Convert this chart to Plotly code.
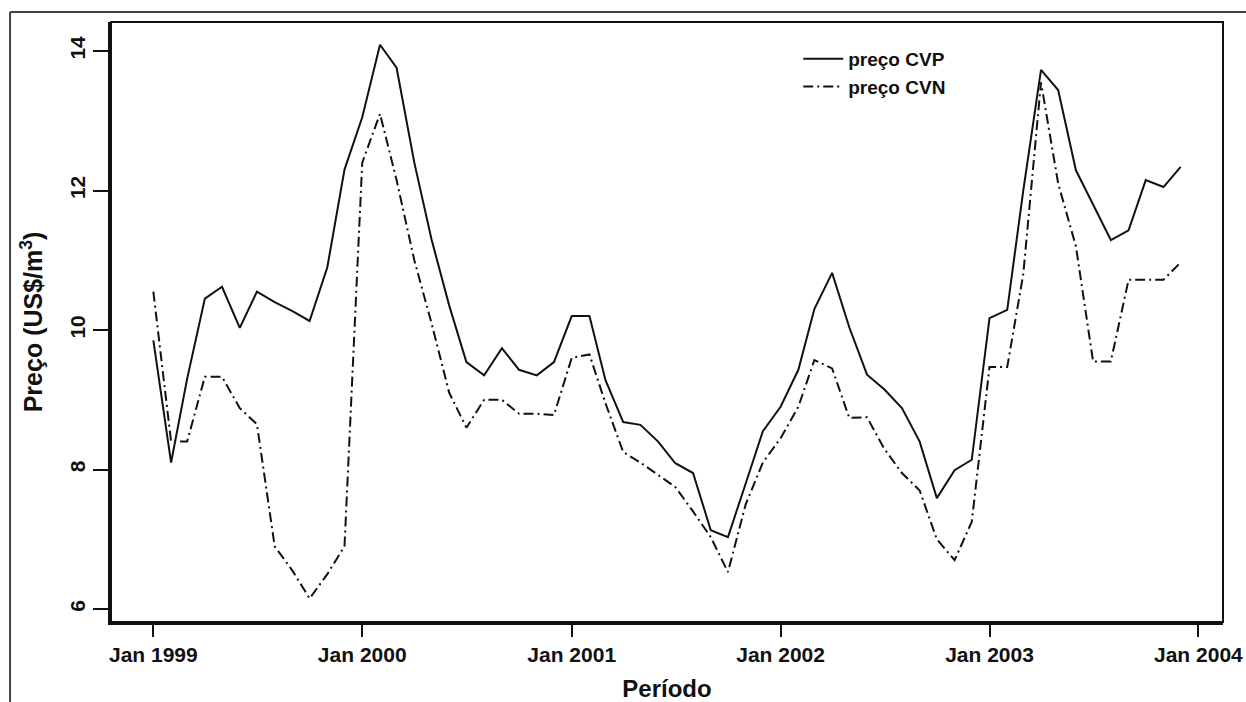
import plotly.graph_objects as go
import pandas as pd

# Monthly dates Jan 1999 .. Dec 2003
months = pd.date_range("1999-01-01", "2003-12-01", freq="MS").strftime("%Y-%m-%d").tolist()

preco_cvp = [
    9.85, 8.10, 9.30, 10.45, 10.62, 10.03, 10.55, 10.40, 10.27, 10.13, 10.90, 12.30,
    13.05, 14.09, 13.76, 12.40, 11.30, 10.35, 9.54, 9.35, 9.74, 9.43, 9.35, 9.54,
    10.20, 10.20, 9.28, 8.68, 8.64, 8.40, 8.09, 7.95, 7.13, 7.03, 7.80, 8.55,
    8.90, 9.43, 10.30, 10.82, 10.04, 9.36, 9.15, 8.88, 8.40, 7.59, 7.99, 8.14,
    10.17, 10.29, 12.00, 13.73, 13.44, 12.29, 11.80, 11.29, 11.43, 12.15, 12.05, 12.34,
]

preco_cvn = [
    10.55, 8.40, 8.40, 9.33, 9.33, 8.88, 8.65, 6.90, 6.55, 6.15, 6.50, 6.90,
    12.40, 13.10, 12.15, 11.00, 10.10, 9.10, 8.60, 9.00, 9.00, 8.80, 8.80, 8.78,
    9.60, 9.65, 8.95, 8.25, 8.10, 7.92, 7.75, 7.40, 7.03, 6.53, 7.50, 8.10,
    8.45, 8.90, 9.57, 9.45, 8.74, 8.75, 8.30, 7.95, 7.70, 7.00, 6.70, 7.25,
    9.47, 9.47, 10.80, 13.55, 12.10, 11.20, 9.55, 9.55, 10.72, 10.72, 10.72, 10.97,
]

x_tickvals = ["1999-01-01", "2000-01-01", "2001-01-01", "2002-01-01", "2003-01-01", "2004-01-01"]
x_ticktext = ["Jan 1999", "Jan 2000", "Jan 2001", "Jan 2002", "Jan 2003", "Jan 2004"]
y_tickvals = [6, 8, 10, 12, 14]

FONT = "Liberation Sans, Arial, sans-serif"
INK = "#111111"

fig = go.Figure()
fig.add_trace(go.Scatter(
    x=months, y=preco_cvp, mode="lines", name="preço CVP",
    line=dict(color=INK, width=2),
))
fig.add_trace(go.Scatter(
    x=months, y=preco_cvn, mode="lines", name="preço CVN",
    line=dict(color=INK, width=2, dash="10px,4px,2px,4px"),
))

fig.update_layout(
    width=1246, height=702,
    margin=dict(l=111, r=23, t=22, b=80, autoexpand=False),
    paper_bgcolor="white", plot_bgcolor="white",
    font=dict(family=FONT, color=INK, size=20, weight="bold"),
    showlegend=True,
    legend=dict(
        x=0.618, y=0.97, xanchor="left", yanchor="top",
        bgcolor="rgba(0,0,0,0)", borderwidth=0,
        font=dict(family=FONT, size=19, color=INK, weight="bold"),
        tracegroupgap=0, itemwidth=40,
    ),
    xaxis=dict(
        type="date", automargin=False,
        range=["1998-10-19", "2004-02-13"],
        tickmode="array", tickvals=x_tickvals, ticktext=x_ticktext,
        ticks="outside", ticklen=12, tickwidth=2, tickcolor=INK,
        showline=True, linecolor=INK, linewidth=3, mirror=False,
        showgrid=False, zeroline=False,
        tickfont=dict(family=FONT, size=21, color=INK, weight="bold"),
        title=dict(text="Período", font=dict(family=FONT, size=24, color=INK, weight="bold"), standoff=30),
    ),
    yaxis=dict(
        automargin=False,
        range=[5.814, 14.416],
        tickmode="array", tickvals=y_tickvals,
        ticks="outside", ticklen=15, tickwidth=2, tickcolor=INK,
        tickangle=-90,
        showline=True, linecolor=INK, linewidth=3, mirror=False,
        showgrid=False, zeroline=False,
        tickfont=dict(family=FONT, size=21, color=INK, weight="bold"),
        title=dict(text="Preço (US$/m<sup>3</sup>)", font=dict(family=FONT, size=25, color=INK, weight="bold"), standoff=16),
    ),
    shapes=[
        # plot box (thin top/right edges)
        dict(type="rect", xref="paper", yref="paper", x0=0, y0=0, x1=1, y1=1,
             line=dict(color=INK, width=2), fillcolor="rgba(0,0,0,0)", layer="above"),
        # outer figure frame: top and left
        dict(type="line", xref="paper", yref="paper", x0=-0.0908, y0=1.0167, x1=1.03, y1=1.0167,
             line=dict(color="#444444", width=2)),
        dict(type="line", xref="paper", yref="paper", x0=-0.0908, y0=1.0167, x1=-0.0908, y1=-0.14,
             line=dict(color="#444444", width=2)),
    ],
)

fig.write_html("out.html")
